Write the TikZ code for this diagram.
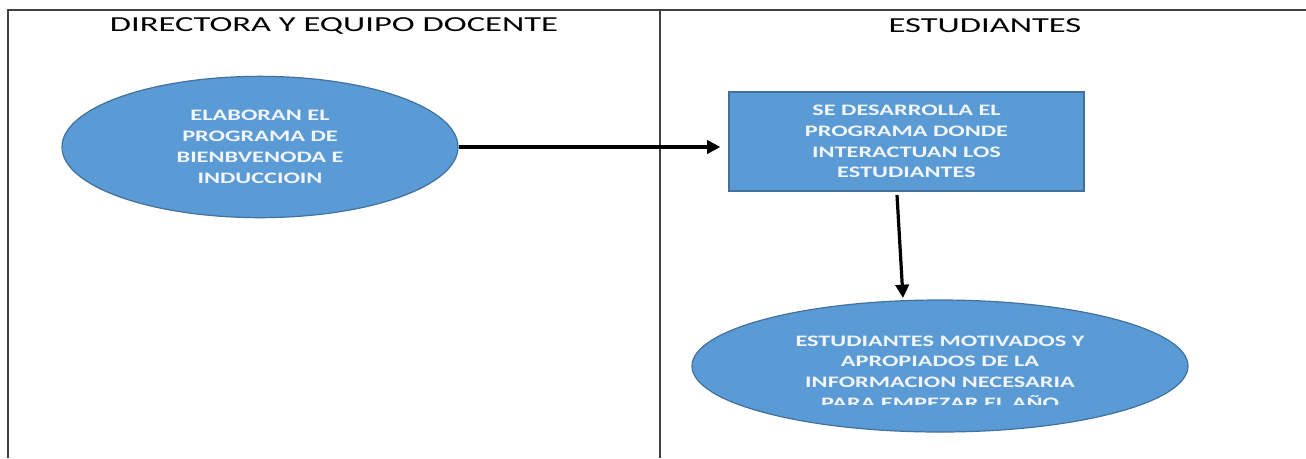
\documentclass[tikz,border=0pt]{standalone}
\usepackage{fontspec}
\setmainfont{Carlito}
\newfontfamily\titlefont[FakeStretch=1.62]{Carlito}
\newfontfamily\shapefont[FakeStretch=1.52,UprightFont=* Bold]{Carlito}
\usetikzlibrary{shapes.geometric,arrows.meta}
\definecolor{officeblue}{HTML}{5B9BD5}
\definecolor{officeedge}{HTML}{41719C}
\definecolor{laneline}{HTML}{404040}
\definecolor{shapetext}{HTML}{F2F5FA}
\tikzset{
  lane/.style={draw=laneline,line width=1.5pt},
  lanetitle/.style={font=\titlefont\fontsize{16}{19}\selectfont,anchor=center},
  bubble/.style={ellipse,draw=officeedge,line width=0.9pt,fill=officeblue,
    text=shapetext,align=center,inner sep=0pt,font=\shapefont\fontsize{12}{15.6}\selectfont},
  stepbox/.style={rectangle,draw=officeedge,line width=1.2pt,fill=officeblue,
    text=shapetext,align=center,inner sep=0pt,font=\shapefont\fontsize{12}{15.6}\selectfont},
  flow/.style={-{Triangle[length=10pt,width=10pt]},line width=2.4pt,black}
}
\begin{document}
\begin{tikzpicture}[x=0.75pt,y=-0.75pt]
\useasboundingbox (0,0) rectangle (1306,458);
% lanes
\draw [lane] (8,458) -- (8,10) -- (1306,10);
\draw [lane] (660,10) -- (660,458);
\node [lanetitle] (titleA) at (334,26) {DIRECTORA Y EQUIPO DOCENTE};
\node [lanetitle] (titleB) at (985,26) {ESTUDIANTES};
% shapes
\node [bubble,minimum width=297pt,minimum height=106pt] (plan) at (260,147)
  {ELABORAN EL\\PROGRAMA DE\\BIENBVENODA E\\INDUCCIOIN};
\node [stepbox,minimum width=266pt,minimum height=74pt] (run) at (906.5,141.5)
  {SE DESARROLLA EL\\PROGRAMA DONDE\\INTERACTUAN LOS\\ESTUDIANTES};
\node [bubble,minimum width=372pt,minimum height=99pt] (result) at (940,366) {};
% last line is cut off at the bottom
\begin{scope}
\clip (692,300) rectangle (1188,404.5);
\node [bubble,draw=none,fill=none] (resulttext) at (940,372)
  {ESTUDIANTES MOTIVADOS Y\\APROPIADOS DE LA\\INFORMACION NECESARIA\\PARA EMPEZAR EL AÑO};
\end{scope}
% arrows
\coordinate (runfoot) at (897,195);
\coordinate (resulttop) at (903,298);
\draw [flow,shorten >=6pt] (plan.east) -- (plan.east -| run.west);
\draw [flow] (runfoot) -- (resulttop);
\end{tikzpicture}
\end{document}
